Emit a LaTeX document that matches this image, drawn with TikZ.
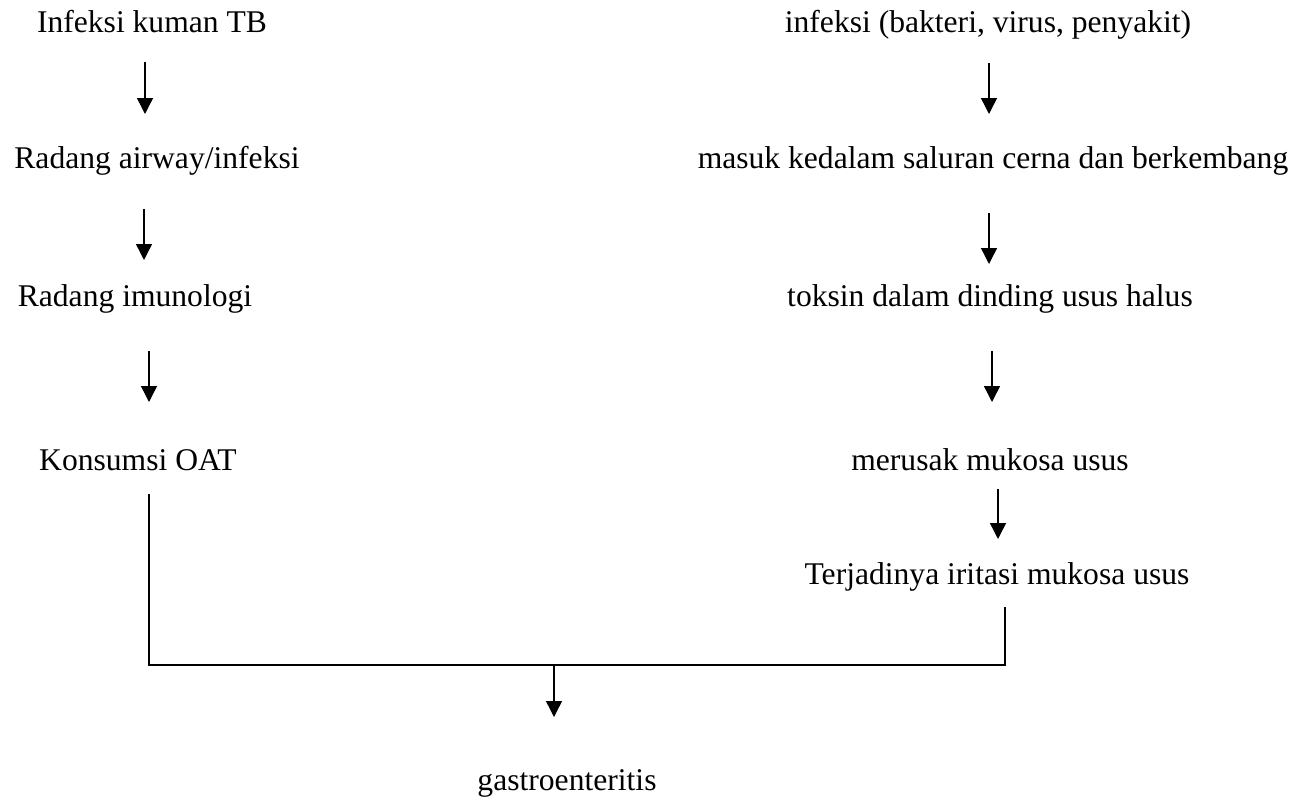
\documentclass[tikz,border=0pt]{standalone}
\usepackage{fontspec}
\setmainfont{Liberation Serif}
\usetikzlibrary{arrows.meta}
\begin{document}
\begin{tikzpicture}[x=1pt,y=-1pt,
  lbl/.style={anchor=base,inner sep=0pt,font=\fontsize{31.6}{36}\selectfont},
  arr/.style={line width=1.4pt,-{Triangle[width=16pt,length=16pt]}},
  link/.style={line width=1.4pt}]
\useasboundingbox (0,0) rectangle (1312,801);

% left chain
\node[lbl] (l1) at (152,32)  {Infeksi kuman TB};
\node[lbl] (l2) at (157,168) {Radang airway/infeksi};
\node[lbl] (l3) at (135,306) {Radang imunologi};
\node[lbl] (l4) at (138,470) {Konsumsi OAT};

% right chain
\node[lbl] (r1) at (988,32)  {infeksi (bakteri, virus, penyakit)};
\node[lbl] (r2) at (993,168) {masuk kedalam saluran cerna dan berkembang};
\node[lbl] (r3) at (990,306) {toksin dalam dinding usus halus};
\node[lbl] (r4) at (990,470) {merusak mukosa usus};
\node[lbl] (r5) at (997,584) {Terjadinya iritasi mukosa usus};

% result
\node[lbl] (g) at (567,790) {gastroenteritis};

% arrow end points
\coordinate (la1) at (145,62);  \coordinate (lb1) at (145,114);
\coordinate (la2) at (144,209); \coordinate (lb2) at (144,260);
\coordinate (la3) at (149,351); \coordinate (lb3) at (149,402);
\coordinate (ra1) at (989,63);  \coordinate (rb1) at (989,114);
\coordinate (ra2) at (989,213); \coordinate (rb2) at (989,264);
\coordinate (ra3) at (992,351); \coordinate (rb3) at (992,402);
\coordinate (ra4) at (998,489); \coordinate (rb4) at (998,539);

\draw[arr] (la1) -- (lb1);
\draw[arr] (la2) -- (lb2);
\draw[arr] (la3) -- (lb3);
\draw[arr] (ra1) -- (rb1);
\draw[arr] (ra2) -- (rb2);
\draw[arr] (ra3) -- (rb3);
\draw[arr] (ra4) -- (rb4);

% joining bracket
\coordinate (jl) at (149,494);
\coordinate (jr) at (1005,607);
\coordinate (jlb) at (149,665);
\coordinate (jrb) at (1005,665);
\draw[link] (jl) -- (jlb) -- (jrb) -- (jr);

\coordinate (ga) at (554,665);
\coordinate (gb) at (554,717);
\draw[arr] (ga) -- (gb);
\end{tikzpicture}
\end{document}
